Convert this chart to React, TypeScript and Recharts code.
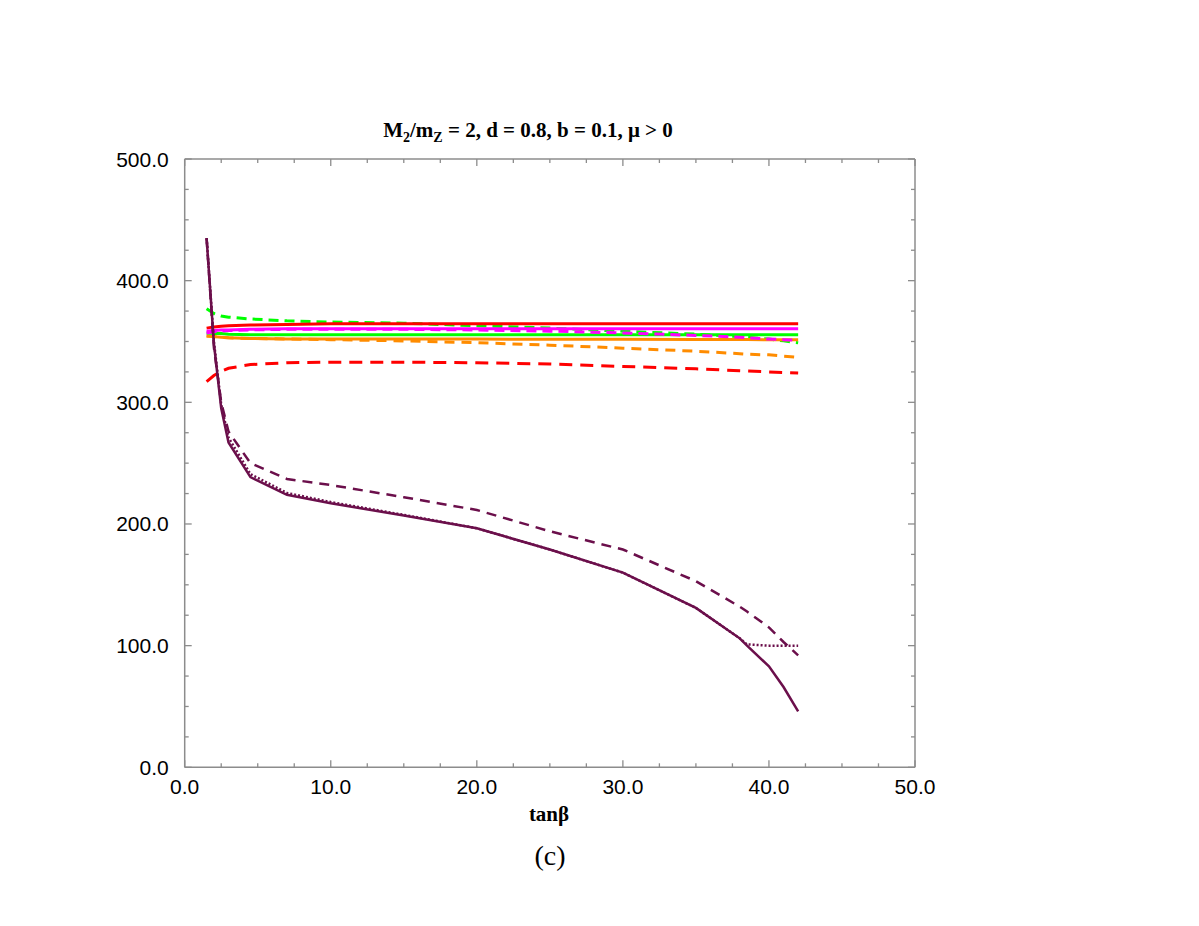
import React from "react";
import { LineChart, Line, XAxis, YAxis, ReferenceLine } from "recharts";

// tan(beta) sample points shared by every curve
const tanBeta = [1.5, 2, 2.5, 3, 4.5, 7, 10, 15, 20, 25, 30, 35, 38, 38.5, 40, 41, 42];

// colored curves (upper band)
const greenDashed = [377, 373, 371, 370, 368.5, 367, 366, 365, 363, 361, 358.5, 356, 354, 353.5, 352, 350.5, 349];
const redSolid = [361, 362, 362.5, 363, 363.5, 364, 364.5, 364.5, 364.5, 364.5, 364.5, 364.5, 364.5, 364.5, 364.5, 364.5, 364.5];
const magentaSolid = [358.5, 359, 359.5, 359.5, 360, 360.5, 360.5, 360.5, 360.5, 360.5, 360.5, 360.5, 360.5, 360.5, 360.5, 360.5, 360.5];
const magentaDashed = [357, 358, 358.5, 359, 359.5, 360, 360, 360, 359.5, 358.5, 357, 355, 353.5, 353, 352, 351.5, 351];
const greenSolid = [357, 356.5, 356.5, 356, 355.5, 355.5, 355.5, 355.5, 355.5, 355.5, 355.5, 355.5, 355.5, 355.5, 355.5, 355.5, 355.5];
const orangeSolid = [354.5, 354, 353.5, 353, 352.5, 352, 352, 352, 352, 351.8, 351.8, 351.7, 351.6, 351.6, 351.5, 351.5, 351.5];
const orangeDashed = [354.5, 354, 353.5, 353, 352.5, 352, 351.5, 350.5, 349, 347, 344.5, 342, 340, 339.5, 339, 338, 337];
const redDashed = [317, 322, 325.5, 328, 331, 332.5, 333, 333, 332.5, 331.5, 329.5, 327.5, 326, 325.8, 325, 324.5, 324];

// purple curves (falling)
const purpleSolid = [435, 348, 295, 267, 238.5, 224, 217, 207, 196.5, 179, 160, 131, 106, 100, 83, 66, 46];
const purpleDotted = [435, 350, 298, 271, 241, 225.5, 218, 207.5, 196.5, 179, 160, 131, 106, 101, 100, 100, 100];
const purpleDashed = [435, 345, 300, 276, 250, 237, 232, 222, 211.5, 194, 179, 153, 132, 128, 115, 103, 92];

const xTicks = [0, 2.5, 5, 7.5, 10, 12.5, 15, 17.5, 20, 22.5, 25, 27.5, 30, 32.5, 35, 37.5, 40, 42.5, 45, 47.5, 50];
const yTicks = [0, 25, 50, 75, 100, 125, 150, 175, 200, 225, 250, 275, 300, 325, 350, 375, 400, 425, 450, 475, 500];

const data = tanBeta.map((tb, i) => ({
  tb,
  greenDashed: greenDashed[i],
  redSolid: redSolid[i],
  magentaSolid: magentaSolid[i],
  magentaDashed: magentaDashed[i],
  greenSolid: greenSolid[i],
  orangeSolid: orangeSolid[i],
  orangeDashed: orangeDashed[i],
  redDashed: redDashed[i],
  purpleSolid: purpleSolid[i],
  purpleDotted: purpleDotted[i],
  purpleDashed: purpleDashed[i],
}));

const W = 1183;
const H = 910;
const MARGIN = { top: 151, left: 175.7, right: 275, bottom: 149.7 };
const PLOT_H = H - MARGIN.top - MARGIN.bottom - 1;

const AXIS = "#8c8c8c";
const PURPLE = "#6b0f4b";
const labelFont = "'Liberation Sans', Arial, sans-serif";
const serif = "'Liberation Serif', 'Times New Roman', serif";

// bottom ticks point inward; the matching ticks on the top frame are drawn too
const BottomTick = (props: any) => {
  const { x, y, payload } = props;
  const major = payload.value % 10 === 0;
  const len = major ? 7 : 4;
  const top = y - PLOT_H;
  return (
    <g>
      <line x1={x} x2={x} y1={y} y2={y - len} stroke={AXIS} strokeWidth={1.3} />
      <line x1={x} x2={x} y1={top} y2={top + len} stroke={AXIS} strokeWidth={1.3} />
      {major && (
        <text x={x} y={y + 27} textAnchor="middle" fontFamily={labelFont} fontSize={21} fill="#000">
          {payload.value.toFixed(1)}
        </text>
      )}
    </g>
  );
};

const LeftTick = (props: any) => {
  const { x, y, payload } = props;
  const major = payload.value % 100 === 0;
  return (
    <g>
      <line x1={x} x2={x + (major ? 7 : 4)} y1={y} y2={y} stroke={AXIS} strokeWidth={1.3} />
      {major && (
        <text x={x - 16} y={y + 7.5} textAnchor="end" fontFamily={labelFont} fontSize={21} fill="#000">
          {payload.value.toFixed(1)}
        </text>
      )}
    </g>
  );
};

const RightTick = (props: any) => {
  const { x, y, payload } = props;
  const major = payload.value % 100 === 0;
  return <line x1={x} x2={x - (major ? 7 : 4)} y1={y} y2={y} stroke={AXIS} strokeWidth={1.3} />;
};

export default function App() {
  return (
    <div style={{ position: "relative", width: W, height: H }}>
      <LineChart width={W} height={H} data={data} margin={MARGIN}>
        <XAxis
          type="number"
          dataKey="tb"
          domain={[0, 50]}
          ticks={xTicks}
          height={1}
          tickSize={0}
          tickMargin={0}
          tick={<BottomTick />}
          tickLine={false}
          axisLine={{ stroke: AXIS, strokeWidth: 1.5 }}
          interval={0}
        />
        <YAxis
          type="number"
          domain={[0, 500]}
          ticks={yTicks}
          width={1}
          tickSize={0}
          tickMargin={0}
          tick={<LeftTick />}
          tickLine={false}
          axisLine={{ stroke: AXIS, strokeWidth: 1.5 }}
          interval={0}
        />
        <YAxis
          yAxisId="right"
          orientation="right"
          type="number"
          domain={[0, 500]}
          allowDataOverflow
          ticks={yTicks}
          width={1}
          tickSize={0}
          tickMargin={0}
          tick={<RightTick />}
          tickLine={false}
          axisLine={{ stroke: AXIS, strokeWidth: 1.5 }}
          interval={0}
        />
        <ReferenceLine y={500} stroke={AXIS} strokeWidth={1.5} />
        <Line dataKey="greenDashed" stroke="#00ff00" strokeWidth={3} strokeDasharray="10 6" dot={false} isAnimationActive={false} />
        <Line dataKey="redDashed" stroke="#ff0000" strokeWidth={3} strokeDasharray="13 8" dot={false} isAnimationActive={false} />
        <Line dataKey="orangeDashed" stroke="#ff8c00" strokeWidth={3} strokeDasharray="10 7" dot={false} isAnimationActive={false} />
        <Line dataKey="orangeSolid" stroke="#ff8c00" strokeWidth={3} dot={false} isAnimationActive={false} />
        <Line dataKey="greenSolid" stroke="#00ff00" strokeWidth={3} dot={false} isAnimationActive={false} />
        <Line dataKey="redSolid" stroke="#ff0000" strokeWidth={3} dot={false} isAnimationActive={false} />
        <Line dataKey="magentaSolid" stroke="#ff00ff" strokeWidth={3} dot={false} isAnimationActive={false} />
        <Line dataKey="magentaDashed" stroke="#ff00ff" strokeWidth={3} strokeDasharray="10 6" dot={false} isAnimationActive={false} />
        <Line dataKey="purpleDashed" stroke={PURPLE} strokeWidth={2.5} strokeDasharray="10 7" dot={false} isAnimationActive={false} />
        <Line dataKey="purpleDotted" stroke={PURPLE} strokeWidth={2.5} strokeDasharray="2 2" dot={false} isAnimationActive={false} />
        <Line dataKey="purpleSolid" stroke={PURPLE} strokeWidth={2.5} dot={false} isAnimationActive={false} />
      </LineChart>

      {/* title and captions */}
      <div
        style={{
          position: "absolute",
          left: 520,
          top: 112,
          transform: "translateX(-50%)",
          whiteSpace: "nowrap",
          fontFamily: serif,
          fontWeight: "bold",
          fontSize: 21,
          lineHeight: "21px",
        }}
      >
        M<sub style={{ fontSize: 14, lineHeight: 0 }}>2</sub>/m<sub style={{ fontSize: 14, lineHeight: 0 }}>Z</sub> = 2, d = 0.8, b = 0.1, μ &gt; 0
      </div>
      <div
        style={{
          position: "absolute",
          left: 541,
          top: 796,
          transform: "translateX(-50%)",
          fontFamily: serif,
          fontWeight: "bold",
          fontSize: 21,
          lineHeight: "21px",
        }}
      >
        tanβ
      </div>
      <div
        style={{
          position: "absolute",
          left: 542,
          top: 834,
          transform: "translateX(-50%)",
          fontFamily: serif,
          fontSize: 28,
          lineHeight: "28px",
        }}
      >
        (c)
      </div>
    </div>
  );
}
